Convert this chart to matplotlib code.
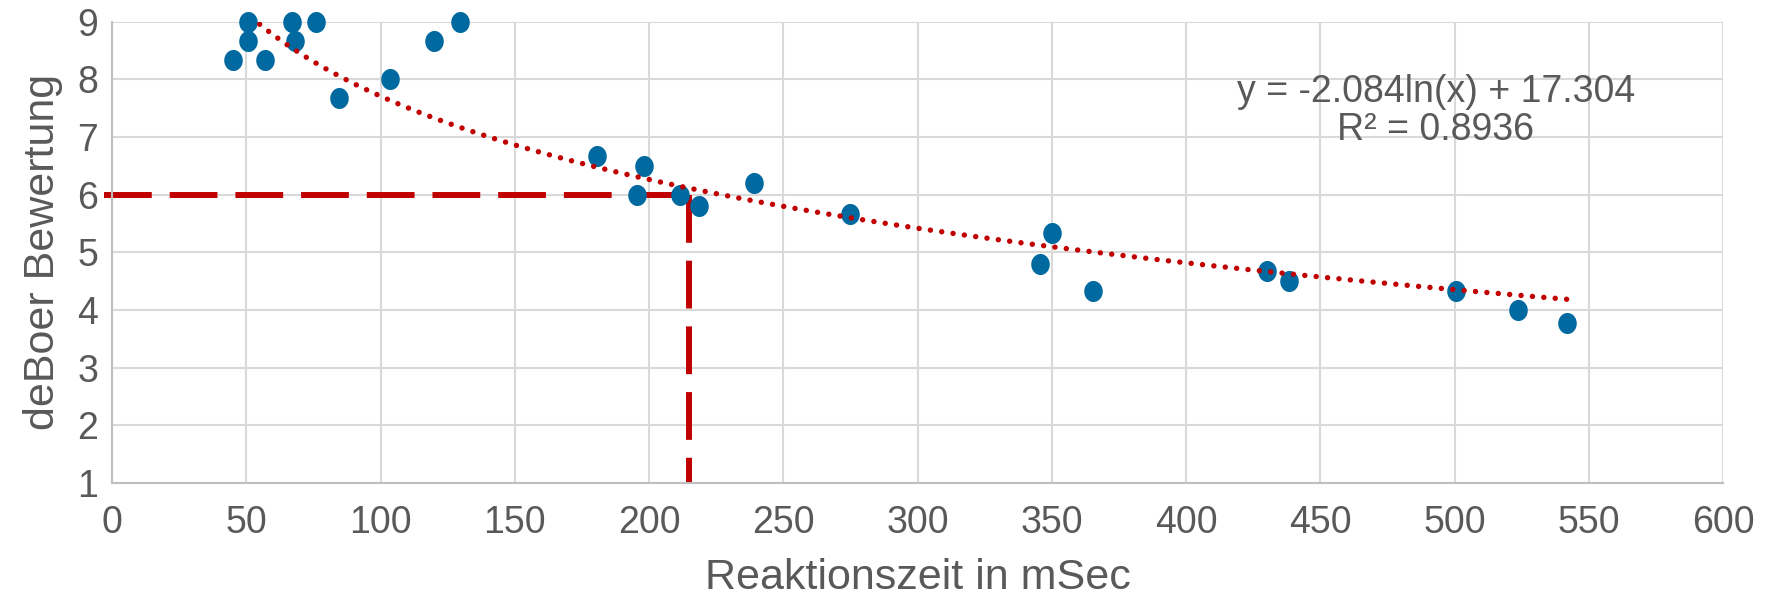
import matplotlib.pyplot as plt
import numpy as np
from matplotlib.path import Path

# Reaction time (ms) and deBoer rating per measurement
reaktionszeit = [45, 50.5, 50.5, 57, 67, 68, 76, 84.5, 103.5, 120, 129.5,
                 180.5, 195.5, 198, 211.5, 218.5, 239, 275, 345.5, 350,
                 365.5, 430, 438.5, 500.5, 523.5, 542]
bewertung = [8.33, 9.0, 8.67, 8.33, 9.0, 8.67, 9.0, 7.67, 8.0, 8.67, 9.0,
             6.67, 6.0, 6.5, 6.0, 5.8, 6.2, 5.67, 4.8, 5.33,
             4.33, 4.67, 4.5, 4.33, 4.0, 3.78]

# logarithmic trend line coefficients
coef_a = -2.084
coef_b = 17.304
r_squared = 0.8936

# reference reading at rating 6
ref_x = 215
ref_y = 6

x_ticks = list(range(0, 601, 50))
y_ticks = list(range(1, 10))

plt.rcParams['font.family'] = ['Liberation Sans', 'DejaVu Sans']
text_col = '#595959'
grid_col = '#D9D9D9'

fig = plt.figure(figsize=(17.73, 6.0), dpi=100)
ax = fig.add_axes([0.0632, 0.195, 0.9086, 0.769])

# slightly narrow ellipse marker
t = np.linspace(0, 2 * np.pi, 60)
ellipse = Path(np.column_stack([0.88 * np.cos(t), np.sin(t)]), closed=True)

ax.scatter(reaktionszeit, bewertung, s=230, marker=ellipse, color='#00699F',
           zorder=3, clip_on=False, linewidths=0)

# trend line, only where it stays inside the y range
xs = np.linspace(min(reaktionszeit), max(reaktionszeit), 400)
ys = coef_a * np.log(xs) + coef_b
keep = ys <= 9
ax.plot(xs[keep], ys[keep], color='#C00000', lw=3.9, linestyle=(0, (0.01, 2.1)),
        dash_capstyle='round', zorder=4)

# dashed reference lines
ax.plot([-3, ref_x], [ref_y, ref_y], color='#C00000', lw=4.3,
        linestyle=(0, (8, 3)), zorder=2, clip_on=False)
ax.plot([ref_x, ref_x], [ref_y, 1], color='#C00000', lw=4.3,
        linestyle=(0, (8, 3)), zorder=2, clip_on=False)

ax.text(493, 7.45, 'y = %.3fln(x) + %.3f\nR² = %.4f' % (coef_a, coef_b, r_squared),
        ha='center', va='center', fontsize=27, color=text_col, linespacing=1.1)

ax.set_xlim(0, 600)
ax.set_ylim(1, 9)
ax.set_xticks(x_ticks)
ax.set_yticks(y_ticks)
ax.grid(True, color=grid_col, lw=1.5, zorder=0)
ax.set_axisbelow(True)
for side in ['top', 'right']:
    ax.spines[side].set_visible(False)
for side in ['left', 'bottom']:
    ax.spines[side].set_color('#BFBFBF')
    ax.spines[side].set_linewidth(1.5)
ax.tick_params(length=0, labelsize=27, labelcolor=text_col)
ax.tick_params(axis='x', pad=16)
ax.tick_params(axis='y', pad=10)

ax.set_xlabel('Reaktionszeit in mSec', fontsize=31, color=text_col, labelpad=12)
ax.set_ylabel('deBoer Bewertung', fontsize=31, color=text_col, labelpad=10)

fig.savefig('out.png', dpi=100)
